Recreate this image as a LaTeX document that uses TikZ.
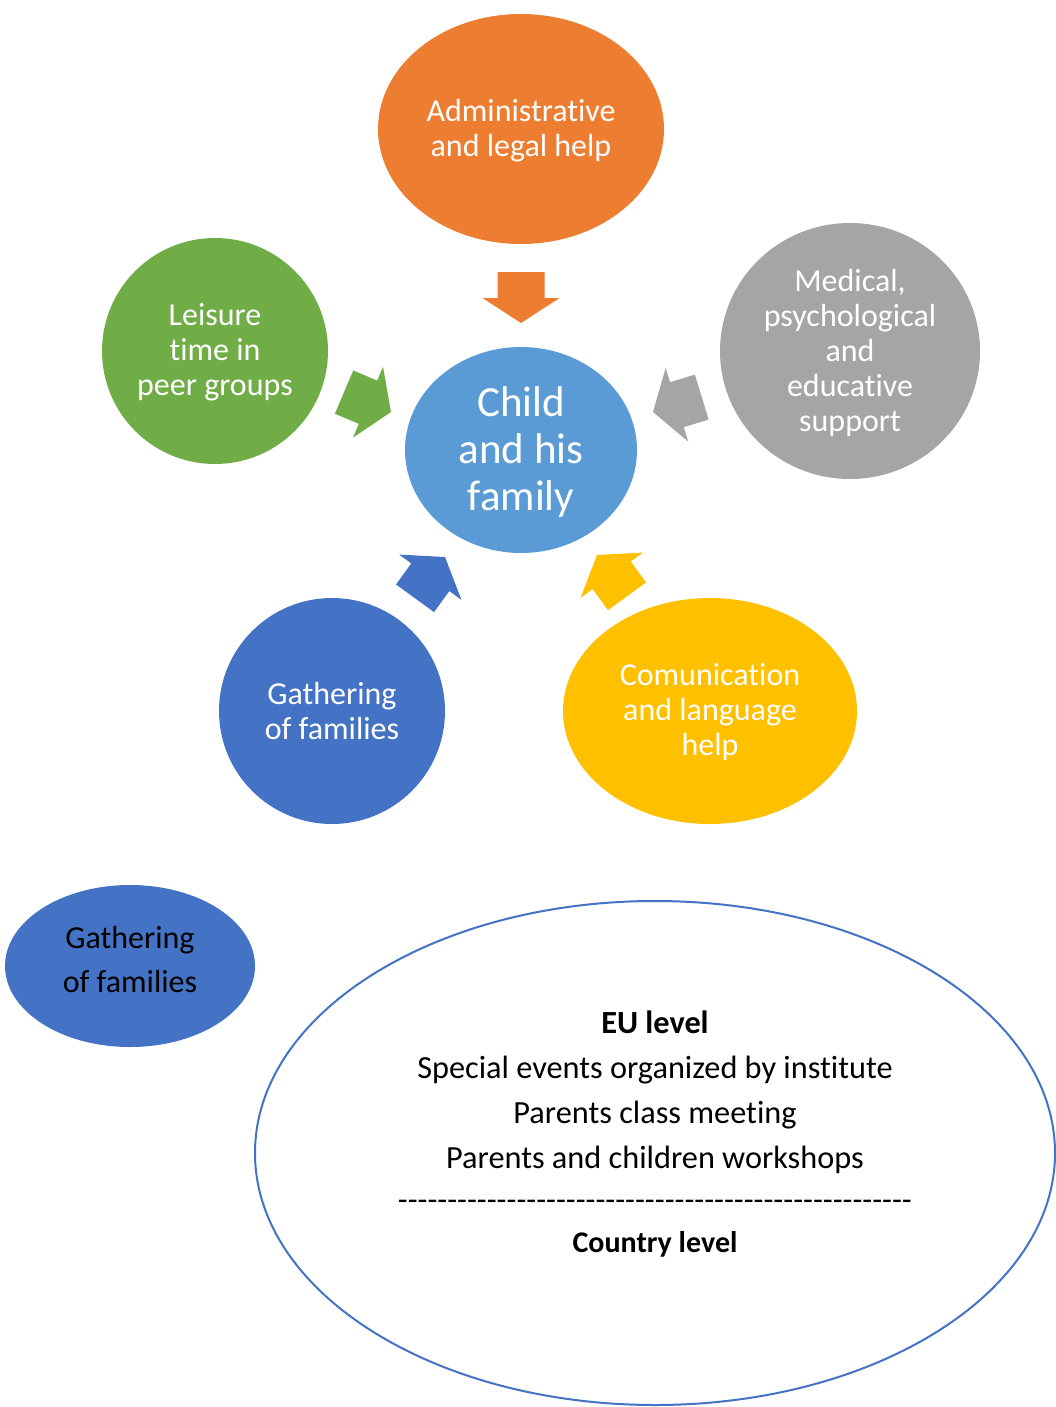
\documentclass[tikz,border=0pt]{standalone}
\usepackage{fontspec}
\setmainfont{Carlito}[Ligatures={NoCommon}]
\usetikzlibrary{shapes.geometric}
\definecolor{cOrange}{HTML}{ED7D31}
\definecolor{cGreen}{HTML}{70AD47}
\definecolor{cGray}{HTML}{A5A5A5}
\definecolor{cLight}{HTML}{5B9BD5}
\definecolor{cBlue}{HTML}{4472C4}
\definecolor{cYellow}{HTML}{FFC000}
\def\dd{-\kern0pt}
\def\ddx{\dd\dd\dd\dd\dd\dd\dd\dd\dd\dd}
\begin{document}
\begin{tikzpicture}[x=1pt,y=-1pt,
  blob/.style={ellipse, inner sep=0pt},
  blobtext/.style={inner sep=0pt, text=white, align=center,
    font=\fontsize{32}{35}\selectfont},
  bigarrow/.pic={\fill[pic actions] (0,0) -- (-25,38.5) -- (-25,23.5) -- (-51,23.5)
     -- (-51,-23.5) -- (-25,-23.5) -- (-25,-38.5) -- cycle;},
  plaintext/.style={inner sep=0pt, align=center, text=black,
    font=\fontsize{32}{35}\selectfont}]
\useasboundingbox[fill=white] (0,0) rectangle (1056,1407);

% circles
\node[blob, fill=cOrange, minimum width=286, minimum height=230,
  label={[blobtext, yshift=-2pt]center:Administrative\\and legal help}] (admin) at (521,129) {};
\node[blob, fill=cGreen, minimum width=226, minimum height=226,
  label={[blobtext, yshift=-1.5pt]center:Leisure\\time in\\peer groups}] (leisure) at (215,351) {};
\node[blob, fill=cGray, minimum width=260, minimum height=256,
  label={[blobtext, yshift=-2pt]center:Medical,\\psychological\\and\\educative\\support}] (medical) at (850,351) {};
\node[blob, fill=cLight, minimum width=232, minimum height=206,
  label={[blobtext, yshift=-2pt, font=\fontsize{43}{47}\selectfont]center:Child\\and his\\family}] (child) at (521,450) {};
\node[blob, fill=cBlue, minimum width=226, minimum height=226,
  label={[blobtext, yshift=0.5pt]center:Gathering\\of families}] (gather) at (332,711) {};
\node[blob, fill=cYellow, minimum width=294, minimum height=226,
  label={[blobtext, yshift=-1pt]center:Comunication\\and language\\help}] (comm) at (710,711) {};

% arrows
\pic[fill=cOrange, rotate=-90] at (521,323) {bigarrow};
\pic[fill=cGreen, rotate=-23] at (391,412) {bigarrow};
\pic[fill=cGray, rotate=197] at (653,412) {bigarrow};
\pic[fill=cBlue, rotate=54] at (445,557) {bigarrow};
\pic[fill=cYellow, rotate=126] at (597,555) {bigarrow};

% lower part
\node[blob, fill=cBlue, minimum width=250, minimum height=162] (small) at (130,966) {};
\node[plaintext, font=\fontsize{32}{44}\selectfont] (smalltext) at (130,959) {Gathering\\of families};

\node[blob, draw=cBlue, line width=2pt, minimum width=800, minimum height=504] (big) at (655,1153) {};
\node[plaintext, font=\fontsize{32.3}{45}\selectfont] (bigtext) at (655,1134.5) {\textbf{EU level}\\Special events organized by institute\\Parents class meeting\\Parents and children workshops\\[-3pt]\ddx\ddx\ddx\ddx\ddx\dd\dd\\[-3pt]{\fontsize{30}{45}\selectfont\textbf{Country level}}};
\end{tikzpicture}
\end{document}
